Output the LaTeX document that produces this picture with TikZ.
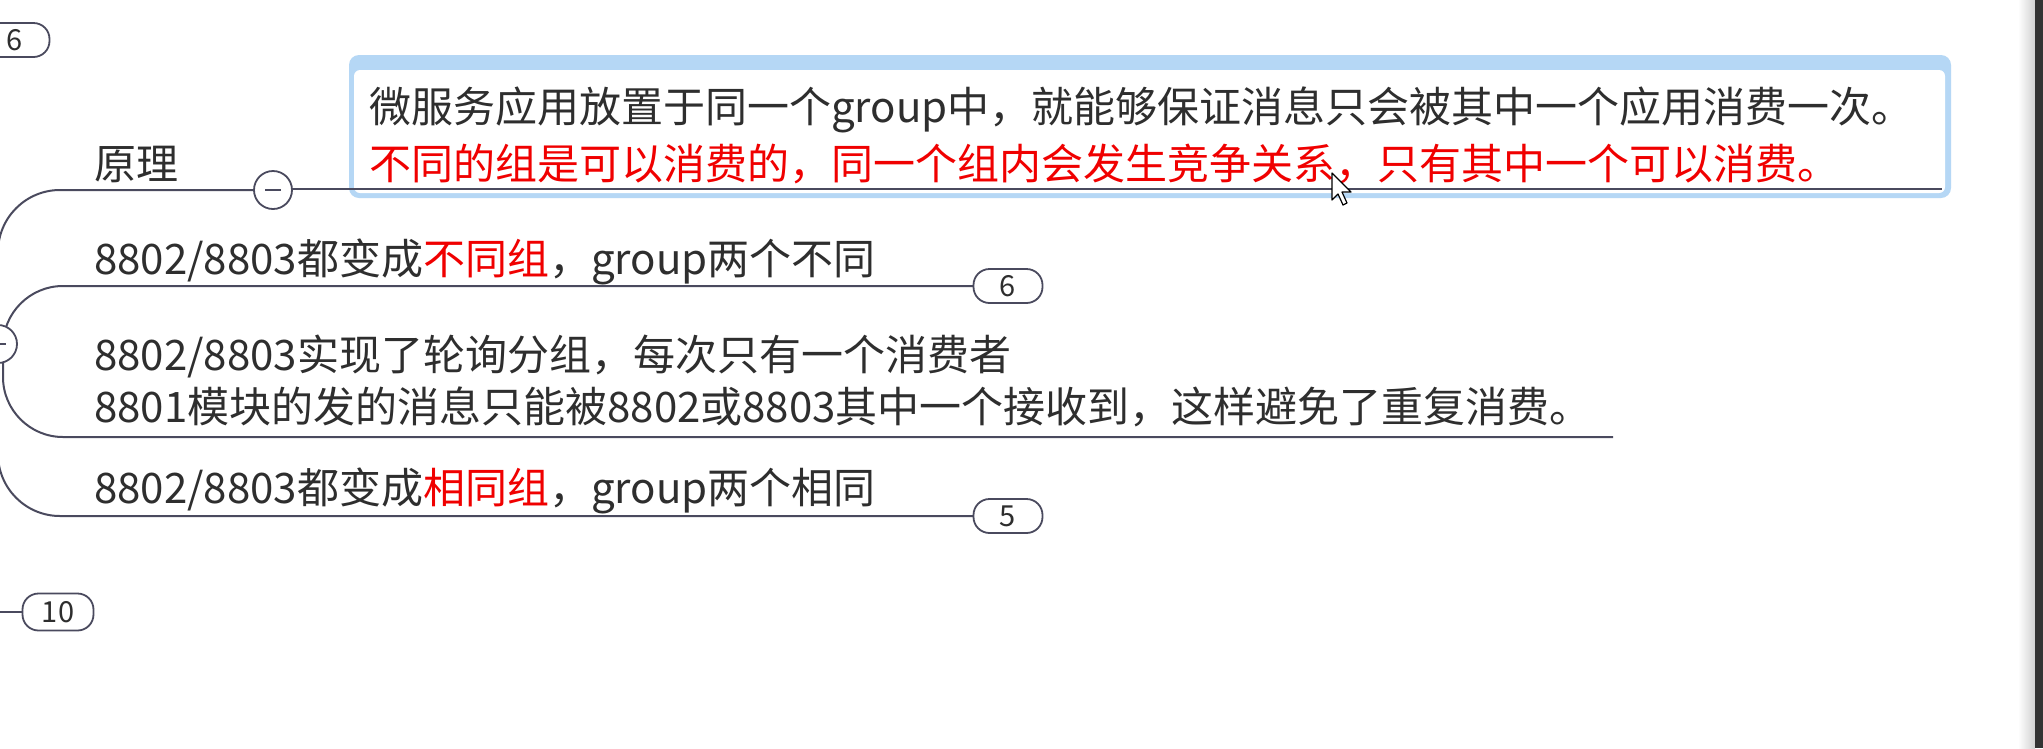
\documentclass[tikz,border=0pt]{standalone}
\usepackage{fontspec}
\setmainfont{Noto Sans CJK SC}
\definecolor{txt}{HTML}{2E2E2E}
\definecolor{redtxt}{HTML}{F00000}
\definecolor{ln}{HTML}{4A4A5E}
\definecolor{frameblue}{HTML}{B5D7F5}
\begin{document}
\begin{tikzpicture}[x=1pt,y=-1pt,
  txtnode/.style={anchor=base west, inner sep=0pt, text=txt, font=\fontsize{42}{52}\selectfont},
  conn/.style={draw=ln, line width=2pt},
  badge/.style={draw=ln, line width=1.8pt, fill=white, rounded corners=16pt, minimum width=69pt, minimum height=34pt, inner sep=0pt, font=\fontsize{29}{32}\selectfont, text=txt},
  toggle/.style={circle, draw=ln, line width=1.8pt, fill=white, minimum size=38pt, inner sep=0pt}]
\useasboundingbox (0,0) rectangle (2043,748);
\clip (0,0) rectangle (2043,748);
\fill[white] (0,0) rectangle (2043,748);

% highlighted box
\fill[frameblue, rounded corners=10pt] (349,55) rectangle (1951,198);
\fill[white, rounded corners=6pt] (354,70) rectangle (1945,193);
\node[txtnode] (l1) at (369,122) {微服务应用放置于同一个group中，就能够保证消息只会被其中一个应用消费一次。};
\node[txtnode, text=redtxt] (l2) at (369,179) {不同的组是可以消费的，同一个组内会发生竞争关系，只有其中一个可以消费。};
\coordinate (boxend) at (1942,189);

% nodes
\node[txtnode] (yuanli) at (94,179) {原理};
\node[txtnode] (diff) at (94,274) {8802/8803都变成\textcolor{redtxt}{不同组}，group两个不同};
\node[txtnode] (poll1) at (94,370) {8802/8803实现了轮询分组，每次只有一个消费者};
\node[txtnode] (poll2) at (94,422) {8801模块的发的消息只能被8802或8803其中一个接收到，这样避免了重复消费。};
\node[txtnode] (same) at (94,503) {8802/8803都变成\textcolor{redtxt}{相同组}，group两个相同};

\coordinate (pollend) at (1613,437);
\coordinate (leftin) at (0,612);

% connectors
\draw[conn, rounded corners=62pt] (273,190) -- (-2,190) -- (-2,516) -- (1008,516);
\draw[conn, rounded corners=60pt] (1008,286) -- (3,286) -- (3,437) -- (pollend);
\draw[conn] (273,189) -- (boxend);

% toggles and badges
\node[toggle] (t1) at (273,190) {};
\draw[ln, line width=1.8pt] ([xshift=-8pt]t1.center) -- ([xshift=8pt]t1.center);
\node[toggle] (tp) at (-2,344) {};
\draw[ln, line width=1.8pt] ([xshift=-8pt]tp.center) -- ([xshift=8pt]tp.center);

\node[badge] (b6) at (1008,286) {6};
\node[badge] (b5) at (1008,516) {5};
\node[badge] (btop) at (15,40) {6};
\node[badge, minimum width=71pt, minimum height=37pt] (b10) at (58,612) {10};
\draw[conn] (leftin) -- (b10.west);

% mouse cursor
\filldraw[fill=white, draw=black, line width=1.2pt, line join=round]
  (1332,173) -- (1332,200) -- (1338,194) -- (1343,205) -- (1347,203) -- (1342,192) -- (1351,192) -- cycle;

% right window edge
\shade[left color=white, right color=black!18] (2018,0) rectangle (2035,748);
\fill[black!80] (2035,0) rectangle (2043,748);
\end{tikzpicture}
\end{document}
